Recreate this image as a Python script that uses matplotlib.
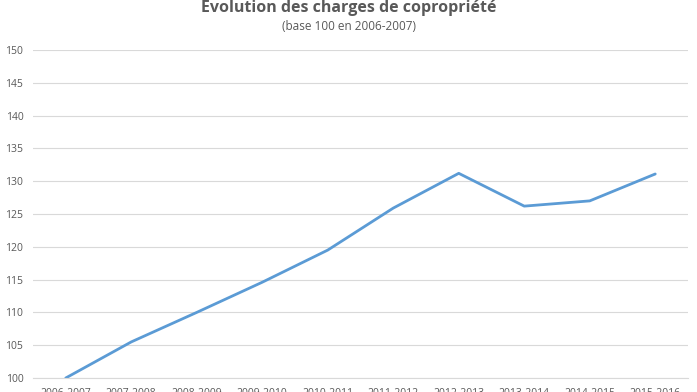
import matplotlib
matplotlib.use("Agg")
import matplotlib.pyplot as plt

categories = ["2006-2007", "2007-2008", "2008-2009", "2009-2010", "2010-2011",
              "2011-2012", "2012-2013", "2013-2014", "2014-2015", "2015-2016"]
values = [100.0, 105.5, 110.0, 114.6, 119.5, 125.9, 131.2, 126.2, 127.0, 131.1]
yticks = [100, 105, 110, 115, 120, 125, 130, 135, 140, 145, 150]

plt.rcParams['font.family'] = ['Open Sans', 'DejaVu Sans']

fig = plt.figure(figsize=(6.97, 3.92), dpi=100)
ax = fig.add_axes([33/697, 14/392, (688-33)/697, (378-50)/392])

x = list(range(len(categories)))
ax.plot(x, values, color="#5B9BD5", linewidth=2.0, solid_capstyle="round")
ax.set_xlim(-0.5, len(categories) - 0.5)
ax.set_ylim(100, 150)
ax.set_yticks(yticks)
ax.set_xticks(x)
ax.set_xticklabels(categories)
ax.grid(axis="y", color="#D9D9D9", linewidth=0.8)
ax.set_axisbelow(True)
for s in ["top", "right", "left"]:
    ax.spines[s].set_visible(False)
ax.spines["bottom"].set_color("#D9D9D9")
ax.spines["bottom"].set_linewidth(0.8)
ax.tick_params(axis="both", length=0, colors="#595959", labelsize=7.5)
ax.tick_params(axis="y", pad=7)
ax.tick_params(axis="x", pad=7)

fig.text(0.5, 1.0 + 3/392, "Évolution des charges de copropriété", ha="center", va="top",
         fontsize=11.5, fontweight="bold", color="#595959")
fig.text(0.5, 1 - 20/392, "(base 100 en 2006-2007)", ha="center", va="top",
         fontsize=8.5, color="#595959")

fig.savefig("out.png", dpi=100)
